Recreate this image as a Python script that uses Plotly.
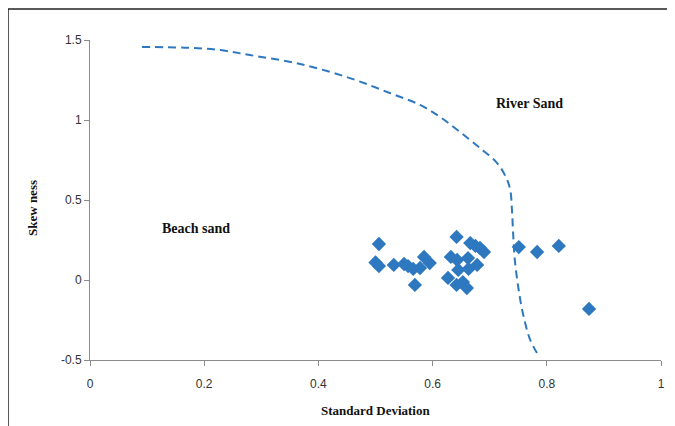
import plotly.graph_objects as go

# Scatter data (Standard Deviation vs Skewness)
std_dev = [0.506, 0.500, 0.506, 0.532, 0.550, 0.557, 0.566, 0.578, 0.585, 0.569,
           0.595, 0.627, 0.632, 0.642, 0.643, 0.645, 0.642, 0.653, 0.662, 0.663,
           0.660, 0.666, 0.675, 0.683, 0.690, 0.678, 0.751, 0.783, 0.821, 0.874]
skewness = [0.225, 0.110, 0.087, 0.094, 0.100, 0.087, 0.069, 0.075, 0.144, -0.031,
            0.106, 0.013, 0.144, 0.269, 0.125, 0.063, -0.031, -0.013, 0.137, 0.069,
            -0.050, 0.231, 0.213, 0.200, 0.175, 0.094, 0.206, 0.175, 0.213, -0.181]

# Boundary curve (dashed)
curve_x = [0.091, 0.166, 0.228, 0.280, 0.368, 0.455, 0.525, 0.578, 0.613, 0.648,
           0.683, 0.713, 0.729, 0.736, 0.739, 0.741, 0.744, 0.750, 0.758, 0.771, 0.785]
curve_y = [1.456, 1.452, 1.437, 1.406, 1.350, 1.262, 1.169, 1.094, 1.019, 0.925,
           0.825, 0.731, 0.638, 0.562, 0.437, 0.294, 0.125, -0.044, -0.206, -0.375, -0.469]

x_ticks = [0, 0.2, 0.4, 0.6, 0.8, 1]
y_ticks = [-0.5, 0, 0.5, 1, 1.5]

blue = "#2E78C0"

fig = go.Figure()
fig.add_trace(go.Scatter(x=curve_x, y=curve_y, mode="lines", line_shape="spline",
                         line=dict(color=blue, width=2, dash="8px,5px"), hoverinfo="skip"))
fig.add_trace(go.Scatter(x=std_dev, y=skewness, mode="markers",
                         marker=dict(symbol="diamond", size=11, color=blue)))

serif = "Liberation Serif, Times New Roman, serif"
sans = "Liberation Sans, Arial, sans-serif"

fig.update_layout(
    width=667, height=418,
    margin=dict(l=82, r=14, t=32, b=66, autoexpand=False),
    paper_bgcolor="white", plot_bgcolor="white",
    showlegend=False,
    xaxis=dict(range=[0, 1], tickvals=x_ticks, ticktext=[str(v) for v in x_ticks],
               automargin=False,
               showgrid=False, zeroline=False, showline=True, linecolor="#8c8c8c",
               ticks="outside", ticklen=5, tickcolor="#8c8c8c", ticklabelstandoff=8,
               tickfont=dict(family=sans, size=12, color="#333")),
    yaxis=dict(range=[-0.5, 1.5], tickvals=y_ticks, ticktext=[str(v) for v in y_ticks],
               automargin=False,
               showgrid=False, zeroline=False, showline=True, linecolor="#8c8c8c",
               ticks="outside", ticklen=5, tickcolor="#8c8c8c",
               tickfont=dict(family=sans, size=12, color="#333")),
    annotations=[
        dict(x=0.5, y=-0.159, xref="paper", yref="paper", xanchor="center", yanchor="middle",
             text="<b>Standard Deviation</b>",
             showarrow=False, font=dict(family=serif, size=13, color="#111")),
        dict(x=-0.1016, y=0.475, xref="paper", yref="paper", xanchor="center", yanchor="middle",
             text="<b>Skew ness</b>",
             textangle=-90, showarrow=False, font=dict(family=serif, size=13, color="#111")),
        dict(x=0.77, y=1.106, xref="x", yref="y", text="<b>River Sand</b>", showarrow=False,
             font=dict(family=serif, size=14, color="#111")),
        dict(x=0.186, y=0.32, xref="x", yref="y", text="<b>Beach sand</b>", showarrow=False,
             font=dict(family=serif, size=14, color="#111")),
    ],
    shapes=[
        dict(type="line", xref="paper", yref="paper", x0=-0.1436, x1=1.03, y0=1.097, y1=1.097,
             line=dict(color="#222", width=1.5)),
        dict(type="line", xref="paper", yref="paper", x0=-0.1436, x1=-0.1436, y0=1.097, y1=-0.21,
             line=dict(color="#222", width=1.5)),
    ],
)

fig.write_html("out.html")
